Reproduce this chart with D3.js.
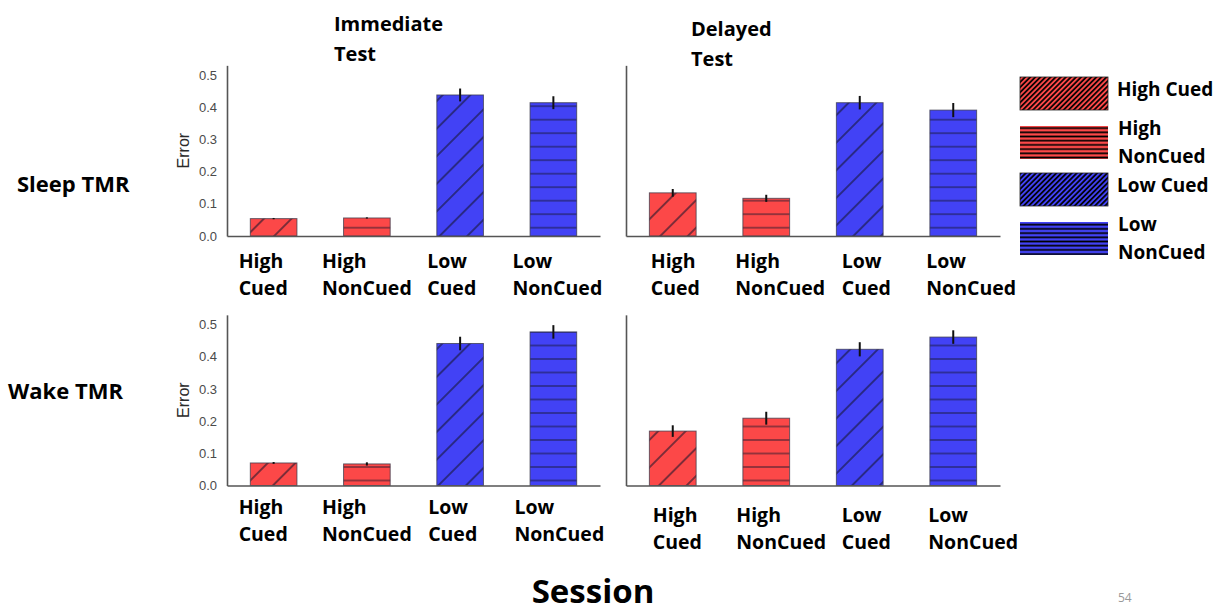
<!DOCTYPE html>
<html>
<head>
<meta charset="utf-8">
<script src="https://cdn.jsdelivr.net/npm/d3@7"></script>
<style>
  body { margin: 0; background: #fff; }
  svg { display: block; }
</style>
</head>
<body>
<div id="chart"></div>
<script>
// categories (one bar each, same order in every panel)
const categories = ["High Cued", "High NonCued", "Low Cued", "Low NonCued"];

// mean error per category, with the half-height of each error bar
const sleepImmediate    = [0.054, 0.056, 0.438, 0.414];
const sleepImmediateErr = [0.002, 0.002, 0.020, 0.020];
const sleepDelayed      = [0.134, 0.117, 0.414, 0.391];
const sleepDelayedErr   = [0.012, 0.011, 0.021, 0.022];
const wakeImmediate     = [0.070, 0.067, 0.441, 0.477];
const wakeImmediateErr  = [0.003, 0.005, 0.021, 0.021];
const wakeDelayed       = [0.169, 0.209, 0.423, 0.461];
const wakeDelayedErr    = [0.018, 0.020, 0.022, 0.021];

const yTicks = [0, 0.1, 0.2, 0.3, 0.4, 0.5];
const rowLabels = ["Sleep TMR", "Wake TMR"];
const testTitles = [["Immediate", "Test"], ["Delayed", "Test"]];
const xTitle = "Session";
const pageNumber = "54";

const W = 1225, H = 612;
const RED = "#fc4848", BLUE = "#4242f5";
const font = "'Open Sans', 'DejaVu Sans', sans-serif";
const colorOf = c => c.startsWith("High") ? RED : BLUE;
const hatchOf = c => c.endsWith("NonCued") ? "horiz" : "diag";

const svg = d3.select("#chart").append("svg")
    .attr("width", W).attr("height", H)
    .attr("viewBox", `0 0 ${W} ${H}`);
const defs = svg.append("defs");

// pixels per unit of error (0.1 ~ 32.2px)
const unit = 322;

const panels = [
    {row: 0, values: sleepImmediate, errs: sleepImmediateErr, x0: 227, x1: 600, base: 236, ticks: true,
     labelBase: 268, labelDx: [-35, -45, -33, -41]},
    {row: 0, values: sleepDelayed, errs: sleepDelayedErr, x0: 626, x1: 1000, base: 236, ticks: false,
     labelBase: 268, labelDx: [-22, -31, -18, -27]},
    {row: 1, values: wakeImmediate, errs: wakeImmediateErr, x0: 227, x1: 600, base: 485.5, ticks: true,
     labelBase: 514, labelDx: [-35, -45, -32, -39]},
    {row: 1, values: wakeDelayed, errs: wakeDelayedErr, x0: 626, x1: 1000, base: 485.5, ticks: false,
     labelBase: 521.5, labelDx: [-20, -30, -18, -25]}
];

// hatch patterns, one horizontal pattern per row so the stripes sit where the reference has them
const hatchOffset = [8.3, 5];
[236, 485.5].forEach((base, r) => {
    const p = defs.append("pattern")
        .attr("id", "horiz" + r)
        .attr("patternUnits", "userSpaceOnUse")
        .attr("width", 40).attr("height", 13.5)
        .attr("patternTransform", `translate(0,${base - hatchOffset[r] - 6.75})`);
    p.append("line").attr("x1", 0).attr("x2", 40).attr("y1", 6.75).attr("y2", 6.75)
        .attr("stroke", "#15152a").attr("stroke-opacity", 0.9).attr("stroke-width", 1.2);
});
const diag = defs.append("pattern")
    .attr("id", "diag")
    .attr("patternUnits", "userSpaceOnUse")
    .attr("width", 19.5).attr("height", 40)
    .attr("patternTransform", "rotate(45)");
diag.append("line").attr("x1", 9.75).attr("x2", 9.75).attr("y1", 0).attr("y2", 40)
    .attr("stroke", "#15152a").attr("stroke-opacity", 0.9).attr("stroke-width", 1.2);

// dense legend hatches
const ldiag = defs.append("pattern")
    .attr("id", "ldiag").attr("patternUnits", "userSpaceOnUse")
    .attr("width", 3.6).attr("height", 20).attr("patternTransform", "rotate(45)");
ldiag.append("line").attr("x1", 1.8).attr("x2", 1.8).attr("y1", 0).attr("y2", 20)
    .attr("stroke", "#000").attr("stroke-width", 1.7);
const lhoriz = defs.append("pattern")
    .attr("id", "lhoriz").attr("patternUnits", "userSpaceOnUse")
    .attr("width", 20).attr("height", 4.2);
lhoriz.append("line").attr("x1", 0).attr("x2", 20).attr("y1", 2.1).attr("y2", 2.1)
    .attr("stroke", "#000").attr("stroke-width", 1.7);

panels.forEach(p => {
    const g = svg.append("g");
    const x = d3.scaleBand().domain(categories).range([p.x0, p.x1])
        .paddingInner(0.5).paddingOuter(0.25);
    const y = d3.scaleLinear().domain([0, 0.53]).range([p.base, p.base - 0.53 * unit]);

    const bars = g.selectAll("g.bar")
        .data(categories.map((c, i) => ({c, v: p.values[i], e: p.errs[i], i})))
        .join("g").attr("class", "bar");

    bars.append("rect")
        .attr("x", d => x(d.c)).attr("width", x.bandwidth())
        .attr("y", d => y(d.v)).attr("height", d => y(0) - y(d.v))
        .attr("fill", d => colorOf(d.c));
    bars.append("rect")
        .attr("x", d => x(d.c)).attr("width", x.bandwidth())
        .attr("y", d => y(d.v)).attr("height", d => y(0) - y(d.v))
        .attr("fill", d => hatchOf(d.c) === "diag" ? "url(#diag)" : `url(#horiz${p.row})`)
        .attr("stroke", "#3a3a4a").attr("stroke-opacity", 0.75).attr("stroke-width", 1);
    bars.append("line")
        .attr("x1", d => x(d.c) + x.bandwidth() / 2).attr("x2", d => x(d.c) + x.bandwidth() / 2)
        .attr("y1", d => y(d.v - d.e)).attr("y2", d => y(d.v + d.e))
        .attr("stroke", "#111").attr("stroke-width", 2);

    // axes
    const yAxis = d3.axisLeft(y).tickValues(p.ticks ? yTicks : []).tickSize(0).tickPadding(10)
        .tickFormat(d3.format(".1f"));
    g.append("g").attr("transform", `translate(${p.x0},0)`).call(yAxis)
        .call(a => a.select(".domain").attr("stroke", "#555").attr("stroke-width", 1.6))
        .call(a => a.selectAll("text").attr("fill", "#4a4a4a").attr("font-size", 13)
            .attr("font-family", "'Liberation Sans', Arial, sans-serif"));
    const xAxis = d3.axisBottom(x).tickSize(0).tickFormat("");
    g.append("g").attr("transform", `translate(0,${p.base})`).call(xAxis)
        .call(a => a.select(".domain").attr("stroke", "#555").attr("stroke-width", 1.6));

    if (p.ticks) {
        const cy = (y.range()[0] + y.range()[1]) / 2;
        g.append("text")
            .attr("transform", `translate(189,${cy}) rotate(-90)`)
            .attr("text-anchor", "middle")
            .attr("font-family", "'Liberation Sans', Arial, sans-serif")
            .attr("font-size", 16).attr("fill", "#2a2a2a")
            .text("Error");
    }

    // two-line category labels
    const lab = g.selectAll("text.cat").data(categories).join("text")
        .attr("class", "cat")
        .attr("font-family", font).attr("font-weight", 700).attr("font-size", 19.5)
        .attr("fill", "#000");
    lab.each(function (c, i) {
        const t = d3.select(this);
        const lx = x(c) + x.bandwidth() / 2 + p.labelDx[i];
        c.split(" ").forEach((w, k) => {
            t.append("tspan").attr("x", lx).attr("y", p.labelBase + k * 27).text(w);
        });
    });
});

// panel titles
const titlePos = [{x: 334, y: 31}, {x: 691, y: 36}];
testTitles.forEach((lines, j) => {
    const t = svg.append("text")
        .attr("font-family", font).attr("font-weight", 700).attr("font-size", 20).attr("fill", "#000");
    lines.forEach((w, k) => t.append("tspan").attr("x", titlePos[j].x).attr("y", titlePos[j].y + k * 30).text(w));
});

// row labels
const rowPos = [{x: 17, y: 192}, {x: 8, y: 399}];
rowLabels.forEach((r, j) => {
    svg.append("text").attr("x", rowPos[j].x).attr("y", rowPos[j].y)
        .attr("font-family", font).attr("font-weight", 700).attr("font-size", 22).attr("fill", "#000")
        .text(r);
});

// legend
const legendY = [77, 126, 173, 222];
const legend = svg.append("g");
categories.forEach((c, i) => {
    const gy = legendY[i];
    legend.append("rect").attr("x", 1020).attr("y", gy).attr("width", 88).attr("height", 33)
        .attr("fill", colorOf(c));
    legend.append("rect").attr("x", 1020).attr("y", gy).attr("width", 88).attr("height", 33)
        .attr("fill", hatchOf(c) === "diag" ? "url(#ldiag)" : "url(#lhoriz)")
        .attr("stroke", hatchOf(c) === "diag" ? "#222" : "none").attr("stroke-width", 0.8);
    const t = legend.append("text")
        .attr("font-family", font).attr("font-weight", 700).attr("font-size", 19).attr("fill", "#000");
    const lines = c.endsWith("NonCued") ? c.split(" ") : [c];
    if (lines.length === 1) {
        t.append("tspan").attr("x", 1117).attr("y", gy + 18.5).text(lines[0]);
    } else {
        t.append("tspan").attr("x", 1118).attr("y", gy + 9).text(lines[0]);
        t.append("tspan").attr("x", 1118).attr("y", gy + 36.5).text(lines[1]);
    }
});

// x title and page number
svg.append("text").attr("x", 593).attr("y", 603).attr("text-anchor", "middle")
    .attr("font-family", font).attr("font-weight", 700).attr("font-size", 33).attr("fill", "#000")
    .text(xTitle);
svg.append("text").attr("x", 1118).attr("y", 602)
    .attr("font-family", font).attr("font-size", 12).attr("fill", "#999")
    .text(pageNumber);
</script>
</body>
</html>
